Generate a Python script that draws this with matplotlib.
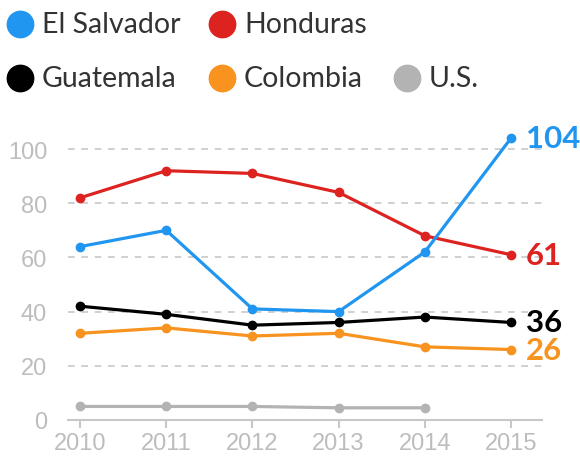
import matplotlib
matplotlib.use('Agg')
from matplotlib import pyplot as plt
from matplotlib.lines import Line2D

years = [2010, 2011, 2012, 2013, 2014, 2015]
el_salvador = [64, 70, 41, 40, 62, 104]
honduras = [82, 92, 91, 84, 68, 61]
guatemala = [42, 39, 35, 36, 38, 36]
colombia = [32, 34, 31, 32, 27, 26]
us_years = [2010, 2011, 2012, 2013, 2014]
us = [5, 5, 5, 4.5, 4.5]

names = ["El Salvador", "Honduras", "Guatemala", "Colombia", "U.S."]
colors = ["#2196f0", "#dd2320", "#000000", "#f7931e", "#b3b3b3"]
yticks = [0, 20, 40, 60, 80, 100]

fig = plt.figure(figsize=(5.8, 4.64), dpi=100)
ax = fig.add_axes([68 / 580, 1 - 421 / 464, (542 - 68) / 580, (421 - 130) / 464])

series = [(years, el_salvador), (years, honduras), (years, guatemala),
          (years, colombia), (us_years, us)]
# draw back to front so blue sits on top like the original
for (xs, ys), c in reversed(list(zip(series, colors))):
    ax.plot(xs, ys, color=c, lw=2.3, marker="o", ms=6, solid_capstyle="round", zorder=3)

# end labels
for (xs, ys), c in list(zip(series, colors))[:4]:
    ax.text(xs[-1] + 0.17, ys[-1], str(ys[-1]), color=c, fontsize=22.5, fontweight="bold",
            family="Lato", va="center", ha="left", clip_on=False)

ax.set_xlim(2009.86, 2015.36)
ax.set_ylim(0, 107.4)
for s in ["top", "right", "left"]:
    ax.spines[s].set_visible(False)
ax.spines["bottom"].set_color("#c8c8c8")
ax.spines["bottom"].set_linewidth(1.5)

ax.set_yticks(yticks)
ax.set_xticks(years)
ax.tick_params(axis="y", length=0, pad=15, labelsize=17, labelcolor="#bdbdbd")
ax.tick_params(axis="x", length=6, width=1.5, color="#c8c8c8", pad=3, labelsize=17,
               labelcolor="#bdbdbd")
for lab in ax.get_xticklabels() + ax.get_yticklabels():
    lab.set_family("Liberation Sans")
for v in yticks[1:]:
    ax.axhline(v, color="#c8c8c8", lw=1.2, ls=(0, (4, 4)), zorder=1)

# legend drawn by hand
legend_pos = [(20, 25), (222, 25), (20, 79), (222, 79), (407, 79)]
for name, c, (px, py) in zip(names, colors, legend_pos):
    fx, fy = px / 580, 1 - py / 464
    fig.add_artist(Line2D([fx], [fy], marker="o", ms=19, color=c, mec=c, lw=0,
                          transform=fig.transFigure))
    fig.text(fx + 22 / 580, fy, name, fontsize=20.5, color="#333333", family="Lato",
             va="center", ha="left")

plt.savefig("out.png", dpi=100)
